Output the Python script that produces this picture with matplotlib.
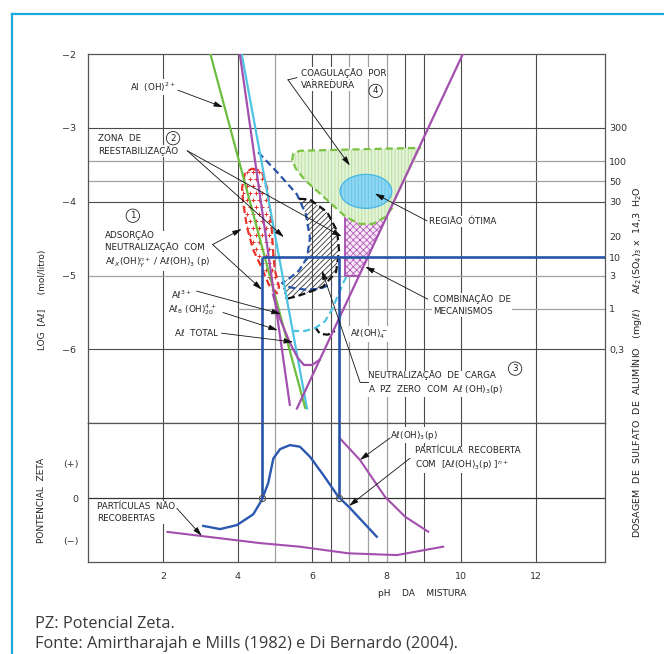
import numpy as np
import matplotlib
matplotlib.use('Agg')
import matplotlib.pyplot as plt
from matplotlib.patches import Polygon, Ellipse
from matplotlib.lines import Line2D

plt.rcParams['font.family'] = ['DejaVu Sans']
plt.rcParams['hatch.linewidth'] = 0.6
plt.rcParams['axes.unicode_minus'] = True

# ---------------- data ----------------
ph_ticks = [2, 4, 6, 8, 10, 12]
ph_grid_dark = [2, 4, 6, 6.5, 8.5, 9, 10, 12]
ph_grid_light = [5, 7, 7.5, 8]
log_ticks = [-2, -3, -4, -5, -6]
log_grid_dark = [-3, -4, -6]
log_grid_light = [-3.45, -3.72, -5]
dose_pos = [-3.0, -3.45, -3.72, -4.0, -4.47, -4.75, -5.0, -5.45, -6.0]
dose_labels = ['300', '100', '50', '30', '20', '10', '3', '1', '0,3']
zeta_ticks = [0.88, 0.0, -1.06]
zeta_labels = ['(+)', '0', '(−)']

# solubility / species lines (pH, log[Al])
aloh2_ph, aloh2_log = [3.27, 5.81], [-2.0, -6.79]
al3_ph, al3_log = [4.06, 5.40], [-2.0, -6.75]
al8_ph, al8_log = [4.11, 5.86], [-2.0, -6.80]
aloh4_ph, aloh4_log = [5.59, 10.04], [-6.80, -2.0]
total_ph = [4.95, 5.14, 5.41, 5.62, 5.78, 6.00, 6.20]
total_log = [-5.26, -5.59, -5.92, -6.12, -6.21, -6.21, -6.14]

# zone 1 (red, adsorption / neutralization)
red_ph = [4.39, 4.65, 4.79, 4.87, 4.92, 4.95, 5.00, 5.11, 5.06, 4.87, 4.65, 4.41, 4.25, 4.15, 4.12, 4.20]
red_log = [-3.55, -3.59, -3.81, -4.10, -4.40, -4.66, -4.93, -5.15, -5.24, -5.16, -4.90, -4.64, -4.34, -4.01, -3.81, -3.61]
# zone 2 (blue dashed, restabilization)
blue_ph = [4.55, 5.08, 5.59, 5.83, 5.94, 5.86, 5.65, 5.41, 5.19, 5.41, 5.81, 6.21, 6.53]
blue_log = [-3.33, -3.61, -3.90, -4.17, -4.49, -4.76, -4.93, -5.03, -5.10, -5.16, -5.19, -5.18, -5.11]
# hatched zone (black dashed)
black_ph = [5.65, 5.94, 6.40, 6.67, 6.72, 6.64, 6.29, 5.94, 5.59, 5.27]
black_log = [-3.96, -3.97, -4.14, -4.40, -4.66, -4.95, -5.15, -5.22, -5.28, -5.32]
hook_ph = [6.08, 6.21, 6.42, 6.61]
hook_log = [-5.70, -5.79, -5.80, -5.75]
# cyan dashed
cyd_ph = [5.46, 5.81, 6.08, 6.34, 6.53, 6.69, 6.85, 6.96]
cyd_log = [-5.75, -5.75, -5.71, -5.62, -5.46, -5.27, -5.08, -4.98]
# zone 4 sweep coagulation (green)
sweep_ph = [8.92, 7.28, 5.67, 5.49, 5.46, 5.57, 5.81, 6.21, 6.56, 6.91, 7.28, 7.63, 7.95, 8.15]
sweep_log = [-3.27, -3.29, -3.31, -3.35, -3.44, -3.56, -3.71, -3.89, -4.05, -4.21, -4.30, -4.30, -4.21, -4.08]
# optimum region ellipse
opt_ph, opt_log, opt_w, opt_h = 7.44, -3.86, 1.39, 0.46
# combination of mechanisms (pink)
comb_ph = [6.88, 6.88, 7.26, 8.10, 7.95, 7.63, 7.28, 6.91]
comb_log = [-4.22, -5.0, -5.0, -4.11, -4.21, -4.30, -4.30, -4.21]
# operating point (10 mg/L)
dose_level = -4.75
pzc_ph = [4.66, 6.71]

# zeta potential panel
zeta_ph = [3.08, 3.53, 3.98, 4.42, 4.65, 4.82, 4.96, 5.14, 5.40, 5.67, 5.94, 6.30, 6.70, 7.01, 7.73]
zeta_val = [-0.69, -0.77, -0.67, -0.40, -0.04, 0.38, 1.0, 1.23, 1.33, 1.29, 1.04, 0.58, 0.04, -0.24, -0.96]
coated_ph = [6.74, 7.28, 7.95, 8.49, 9.11]
coated_val = [1.5, 0.96, 0.04, -0.46, -0.835]
uncoated_ph = [2.12, 4.60, 5.67, 6.97, 8.27, 9.51]
uncoated_val = [-0.84, -1.12, -1.21, -1.375, -1.42, -1.21]

# ---------------- figure ----------------
W, H = 664, 654
fig = plt.figure(figsize=(W / 100, H / 100), dpi=100)
L, R = 88.4 / W, 605 / W
ax = fig.add_axes([L, 1 - 423.3 / H, R - L, (423.3 - 54) / H])
axb = fig.add_axes([L, 1 - 562.3 / H, R - L, (562.3 - 423.3) / H])
XMAX = 13.85
for a in (ax, axb):
    a.set_xlim(0, XMAX)
    for s in a.spines.values():
        s.set_color('#555555')
        s.set_linewidth(0.9)
    a.tick_params(length=0, labelsize=6.8, colors='#333333')
ax.set_ylim(-7, -2)
axb.set_ylim(-1.6, 1.875)

DARK, LIGHT = '#4a4a4a', '#a0a0a0'
for a in (ax, axb):
    for p in ph_grid_dark:
        a.axvline(p, color=DARK, lw=0.8, zorder=0.5)
    for p in ph_grid_light:
        a.axvline(p, color=LIGHT, lw=0.9, zorder=0.5)
for v in log_grid_dark:
    ax.axhline(v, color=DARK, lw=0.8, zorder=0.5)
for v in log_grid_light:
    ax.axhline(v, color=LIGHT, lw=0.9, zorder=0.5)
ax.hlines(-5.45, 4, XMAX, color=LIGHT, lw=0.9, zorder=0.5)
axb.axhline(0, color='#333333', lw=0.9, zorder=0.5)

ax.set_xticks([])
ax.set_yticks(log_ticks)
ax.set_yticklabels([f'−{abs(v)}' for v in log_ticks])
ax.tick_params(axis='y', pad=9)
axb.set_xticks(ph_ticks)
axb.set_xticklabels([str(v) for v in ph_ticks])
axb.tick_params(axis='x', pad=7)
axb.set_yticks(zeta_ticks)
axb.set_yticklabels(zeta_labels)
axb.tick_params(axis='y', pad=7)

ax2 = ax.twinx()
ax2.set_ylim(-7, -2)
ax2.set_yticks(dose_pos)
ax2.set_yticklabels(dose_labels)
ax2.tick_params(length=0, labelsize=6.8, colors='#333333', pad=3)
for s in ax2.spines.values():
    s.set_visible(False)

PURPLE, GREEN, CYAN, BLUE, RED = '#a34fae', '#6dbe3f', '#4fc4e2', '#2754a8', '#e8332b'
DASH = (0, (3.2, 1.8))

# fills
sweep = Polygon(np.column_stack([sweep_ph, sweep_log]), closed=True, fc='#e4f3d7',
                ec='#b5de9c', hatch='|||||', lw=0, zorder=1)
ax.add_patch(sweep)
ax.plot(sweep_ph[::-1], sweep_log[::-1], color='#7cc242', lw=1.6, ls=DASH, zorder=3)

ell = Ellipse((opt_ph, opt_log), opt_w, opt_h, fc='#8fd7f2', ec='#5fc2e8', lw=0,
              hatch='|||||', zorder=1.3)
ax.add_patch(ell)
ax.add_patch(Ellipse((opt_ph, opt_log), opt_w, opt_h, fill=False, ec='#45b7e3', lw=0.9, zorder=1.4))

comb = Polygon(np.column_stack([comb_ph, comb_log]), closed=True, fc='#f7e8f7',
               ec='#b35ab9', hatch='xxxxx', lw=0, zorder=1)
ax.add_patch(comb)
ax.plot(comb_ph[:3], comb_log[:3], color=PURPLE, lw=1.3, zorder=3)

hatch_ph = black_ph + blue_ph[8:2:-1] + [black_ph[0]]
hatch_log = black_log + blue_log[8:2:-1] + [black_log[0]]
ax.add_patch(Polygon(np.column_stack([hatch_ph, hatch_log]), closed=True, fill=False,
                     ec='#333333', hatch='//////', lw=0, zorder=1))

redpoly = Polygon(np.column_stack([red_ph, red_log]), closed=True, fc='white', ec='none', zorder=1)
ax.add_patch(redpoly)
gx, gy = np.meshgrid(np.arange(3.9, 5.4, 0.17), np.arange(-5.5, -3.3, 0.095))
gx = gx + (np.arange(gx.shape[0])[:, None] % 2) * 0.085
sc = ax.scatter(gx.ravel(), gy.ravel(), marker='+', s=9, c=RED, lw=0.7, zorder=1.2)
sc.set_clip_path(redpoly)
ax.plot(red_ph + red_ph[:1], red_log + red_log[:1], color=RED, lw=1.6, ls=DASH, zorder=3)

# dashed curves
ax.plot(blue_ph, blue_log, color=BLUE, lw=1.6, ls=DASH, zorder=3)
ax.plot(black_ph, black_log, color='#111111', lw=1.6, ls=DASH, zorder=3)
ax.plot(hook_ph, hook_log, color='#111111', lw=1.6, ls=DASH, zorder=3)
ax.plot(cyd_ph, cyd_log, color=CYAN, lw=1.6, ls=DASH, zorder=3)

# species lines
ax.plot(aloh2_ph, aloh2_log, color=GREEN, lw=1.6, zorder=3.2)
ax.plot(al8_ph, al8_log, color=CYAN, lw=1.6, zorder=3.1)
ax.plot(al3_ph, al3_log, color=PURPLE, lw=1.6, zorder=3.3)
ax.plot(aloh4_ph, aloh4_log, color=PURPLE, lw=1.6, zorder=3.3)
ax.plot(total_ph, total_log, color=PURPLE, lw=1.6, zorder=3.3)

# operating lines
ax.hlines(dose_level, pzc_ph[0], XMAX, color=BLUE, lw=1.9, zorder=3.5)
for p in pzc_ph:
    ax.vlines(p, -7, dose_level, color=BLUE, lw=1.9, zorder=3.5)
    axb.vlines(p, 0, 1.875, color=BLUE, lw=1.9, zorder=3.5)
axb.plot(pzc_ph, [0, 0], 'o', ms=4.5, mfc='none', mec='#555555', mew=0.8, zorder=4)

# zeta panel curves
axb.plot(zeta_ph, zeta_val, color='#2b58b0', lw=1.7, zorder=3)
axb.plot(coated_ph, coated_val, color=PURPLE, lw=1.5, zorder=3)
axb.plot(uncoated_ph, uncoated_val, color=PURPLE, lw=1.5, zorder=3)


# ---------------- annotations ----------------
def lab(a, x, y, s, ha='left', va='center', fs=6.3):
    a.text(x, y, s, fontsize=fs, ha=ha, va=va, color='#222222', zorder=2.5,
           linespacing=1.35, bbox=dict(fc='white', ec='none', pad=0.8))


def arrow(a, x0, y0, x1, y1):
    a.annotate('', xy=(x1, y1), xytext=(x0, y0), zorder=4,
               arrowprops=dict(arrowstyle='-|>,head_length=0.55,head_width=0.16', lw=0.6,
                               color='#111111', shrinkA=0, shrinkB=0))


def circ(a, x, y, s):
    a.text(x, y, s, fontsize=6.3, ha='center', va='center', color='#222222', zorder=2.6,
           bbox=dict(boxstyle='circle,pad=0.25', fc='white', ec='#222222', lw=0.6))


lab(ax, 1.73, -2.45, 'Al  (OH)$^{2+}$', ha='center')
arrow(ax, 2.40, -2.49, 3.61, -2.72)

lab(ax, 0.26, -3.14, 'ZONA  DE')
lab(ax, 0.26, -3.31, 'REESTABILIZAÇÃO')
circ(ax, 2.27, -3.14, '2')
arrow(ax, 2.65, -3.31, 5.24, -4.48)
arrow(ax, 2.65, -3.31, 6.79, -4.47)

lab(ax, 5.69, -2.26, 'COAGULAÇÃO  POR')
lab(ax, 5.69, -2.43, 'VARREDURA')
circ(ax, 7.70, -2.50, '4')
ax.plot([5.59, 5.35], [-2.32, -2.35], color='#111111', lw=0.6, zorder=4)
arrow(ax, 5.35, -2.35, 7.01, -3.51)

lab(ax, 9.13, -4.27, 'REGIÃO  ÓTIMA')
arrow(ax, 9.08, -4.26, 7.68, -3.89)

lab(ax, 9.24, -5.40, 'COMBINAÇÃO  DE\nMECANISMOS')
arrow(ax, 9.10, -5.32, 7.42, -4.88)

lab(ax, 0.45, -4.65, 'ADSORÇÃO\nNEUTRALIZAÇÃO  COM\nAℓ$_X$(OH)$_Y^{n+}$ / Aℓ(OH)$_3$ (p)')
circ(ax, 1.19, -4.19, '1')
arrow(ax, 3.33, -4.58, 4.11, -4.37)
arrow(ax, 3.33, -4.58, 4.65, -5.19)

lab(ax, 2.78, -5.26, 'Aℓ$^{3+}$', ha='right')
arrow(ax, 2.90, -5.21, 5.16, -5.52)
lab(ax, 3.44, -5.46, 'Aℓ$_8$ (OH)$_{20}^{4+}$', ha='right')
arrow(ax, 3.61, -5.50, 5.08, -5.74)
lab(ax, 3.47, -5.78, 'Aℓ  TOTAL', ha='right')
arrow(ax, 3.57, -5.78, 5.49, -5.90)

lab(ax, 7.01, -5.79, 'Aℓ(OH)$_4^-$')

lab(ax, 7.50, -6.45, 'NEUTRALIZAÇÃO  DE  CARGA\nA  PZ  ZERO  COM  Aℓ (OH)$_3$(p)')
circ(ax, 11.44, -6.26, '3')
ax.plot([7.50, 7.28], [-6.44, -6.44], color='#111111', lw=0.6, zorder=4)
arrow(ax, 7.28, -6.44, 6.26, -4.93)

lab(axb, 0.24, -0.35, 'PARTÍCULAS  NÃO\nRECOBERTAS')
arrow(axb, 2.37, -0.25, 3.04, -0.94)
lab(axb, 8.09, 1.58, 'Aℓ(OH)$_3$(p)')
arrow(axb, 8.09, 1.51, 7.28, 0.96)
lab(axb, 8.76, 0.98, 'PARTÍCULA  RECOBERTA\nCOM  [Aℓ(OH)$_3$(p) ]$^{n+}$')
arrow(axb, 8.62, 1.0, 6.99, -0.19)

# axis titles
fig.text(42 / W, 1 - 300 / H, 'LOG  [Aℓ]     (mol/litro)', rotation=90, fontsize=6.5,
         ha='center', va='center', color='#222222')
fig.text(42 / W, 1 - 500 / H, 'PONTENCIAL  ZETA', rotation=90, fontsize=6.5,
         ha='center', va='center', color='#222222')
fig.text(636 / W, 1 - 362 / H,
         'DOSAGEM  DE  SULFATO  DE  ALUMÍNIO   (mg/ℓ)     Aℓ$_2$(SO$_4$)$_3$ x  14,3  H$_2$O',
         rotation=90, fontsize=6.8, ha='center', va='center', color='#222222')
fig.text(422 / W, 1 - 594 / H, 'pH    DA    MISTURA', fontsize=6.5, ha='center', va='center',
         color='#222222')

# footnotes
fig.text(35 / W, 1 - 624 / H, 'PZ: Potencial Zeta.', fontsize=11.8, family=['Open Sans', 'DejaVu Sans'],
         ha='left', va='center', color='#3a3a3a')
fig.text(35 / W, 1 - 643.5 / H, 'Fonte: Amirtharajah e Mills (1982) e Di Bernardo (2004).', fontsize=11.8,
         family=['Open Sans', 'DejaVu Sans'], ha='left', va='center', color='#3a3a3a')

# frame accent
fig.add_artist(Line2D([12 / W, 12 / W], [0, 1 - 13.5 / H], color='#1ba7df', lw=1.6,
                      transform=fig.transFigure))
fig.add_artist(Line2D([12 / W, 1], [1 - 13.5 / H, 1 - 13.5 / H], color='#1ba7df', lw=1.6,
                      transform=fig.transFigure))

fig.savefig('out.png', dpi=100)
